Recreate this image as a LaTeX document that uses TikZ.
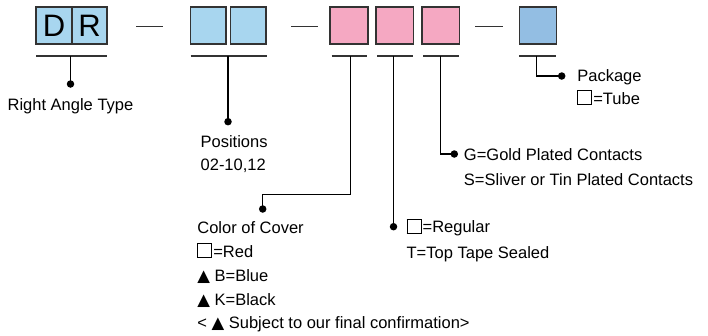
\documentclass[tikz,border=0pt]{standalone}
\usepackage{fontspec}
\setmainfont{Liberation Sans}
\newfontfamily\symfont{DejaVu Sans}
\definecolor{cellblue}{HTML}{A8D6EF}
\definecolor{cellpink}{HTML}{F5A8C2}
\definecolor{pkgblue}{HTML}{93BEE3}
\definecolor{edge}{HTML}{333333}
\newcommand\wsq{{\setlength{\fboxsep}{0pt}\setlength{\fboxrule}{1pt}\fbox{\rule{0pt}{13pt}\hspace{13pt}}}\hspace{1pt}}
\newcommand\tri{{\symfont ▲}}
\begin{document}
\begin{tikzpicture}[x=1pt,y=-1pt,line width=1.3pt,
  cell/.style={draw=edge,line width=1.5pt,minimum height=37pt,inner sep=0pt},
  lbl/.style={anchor=base west,inner sep=0pt,font=\fontsize{16.5}{20}\selectfont},
  dotc/.style={circle,fill=black,inner sep=0pt,minimum size=7.5pt},
  uline/.style={line width=1.4pt,draw=edge}]
\useasboundingbox (0,0) rectangle (708,335);
% code boxes
\node[cell,fill=cellblue,minimum width=36pt,font=\fontsize{31}{31}\selectfont] (bD) at (54,25.5) {D};
\node[cell,fill=cellblue,minimum width=35pt,font=\fontsize{31}{31}\selectfont] (bR) at (89.5,25.5) {R};
\node[cell,fill=cellblue,minimum width=35.5pt] (bP1) at (208.4,25.5) {};
\node[cell,fill=cellblue,minimum width=35.5pt] (bP2) at (248.4,25.5) {};
\node[cell,fill=cellpink,minimum width=38pt] (bC1) at (349.2,25.5) {};
\node[cell,fill=cellpink,minimum width=37.5pt] (bC2) at (394.5,25.5) {};
\node[cell,fill=cellpink,minimum width=37.5pt] (bC3) at (440.5,25.5) {};
\node[cell,fill=pkgblue,minimum width=37pt] (bK) at (538,25.5) {};
% dashes
\draw[uline] (136,26.7) -- (163,26.7);
\draw[uline] (291,26.7) -- (318,26.7);
\draw[uline] (475,26.7) -- (503.3,26.7);
% underlines
\draw[uline] (36,56) -- (107,56);
\draw[uline] (190.7,56) -- (267,56);
\draw[uline] (331.7,56) -- (366.7,56);
\draw[uline] (377,56) -- (412.7,56);
\draw[uline] (423,56) -- (459,56);
\draw[uline] (519.3,56) -- (556,56);
\coordinate (u1) at (70.5,56);
\coordinate (u2) at (228,56);
\coordinate (u3) at (350.7,56);
\coordinate (u4) at (393.5,56);
\coordinate (u5) at (440.5,56);
\coordinate (u6) at (536.7,56);
\coordinate (k3) at (262.7,194.3);
% dots
\node[dotc] (d1) at (70.5,84) {};
\node[dotc] (d2) at (228,121.7) {};
\node[dotc] (d3) at (262.7,209) {};
\node[dotc] (d4) at (393.5,226.7) {};
\node[dotc] (d5) at (454.3,154) {};
\node[dotc] (d6) at (561.7,76) {};
% connectors
\draw (u1) -- (d1.center);
\draw (u2) -- (d2.center);
\draw (u3) |- (k3) -- (d3.center);
\draw (u4) -- (d4.center);
\draw (u5) |- (d5.center);
\draw (u6) |- (d6.center);
% labels
\node[lbl] (t1) at (7,110) {Right Angle Type};
\node[lbl] (t2a) at (200,147.7) {Positions};
\node[lbl] (t2b) at (200,170) {02-10,12};
\node[lbl] (t3a) at (196.7,233.3) {Color of Cover};
\node[lbl] (t3b) at (196.7,257) {\wsq=Red};
\node[lbl] (t3c) at (196.7,281) {\tri\ B=Blue};
\node[lbl] (t3d) at (196.7,305) {\tri\ K=Black};
\node[lbl] (t3e) at (196.7,328.7) {< \tri\ Subject to our final confirmation>};
\node[lbl] (t4a) at (406,232.7) {\wsq=Regular};
\node[lbl] (t4b) at (406,258.3) {T=Top Tape Sealed};
\node[lbl] (t5a) at (463.3,160) {G=Gold Plated Contacts};
\node[lbl] (t5b) at (463.3,185) {S=Sliver or Tin Plated Contacts};
\node[lbl] (t6a) at (576.7,81) {Package};
\node[lbl] (t6b) at (576.7,104) {\wsq=Tube};
\end{tikzpicture}
\end{document}
